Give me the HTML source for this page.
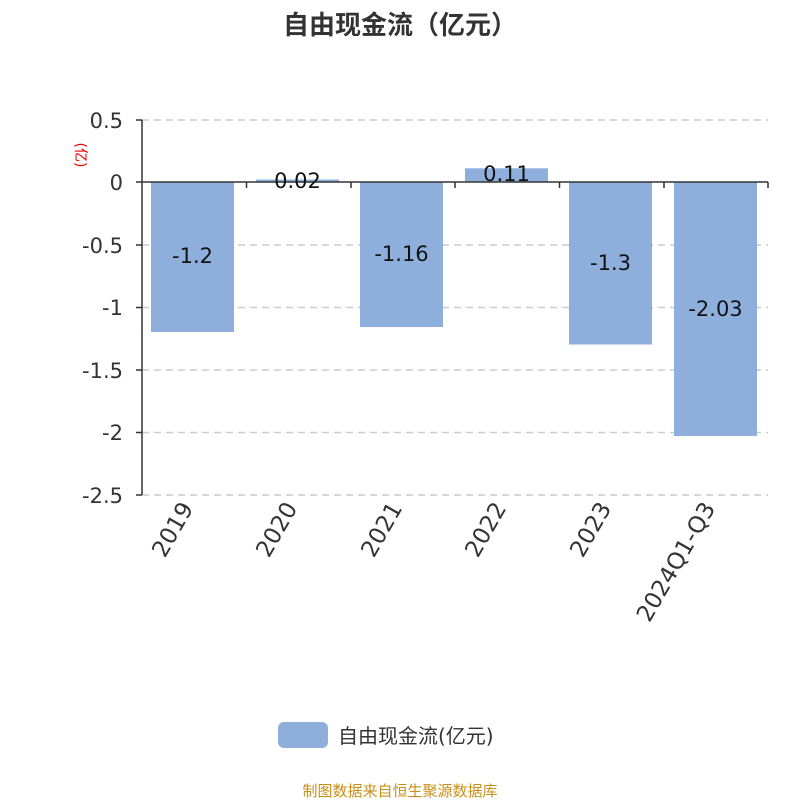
<!DOCTYPE html>
<html><head><meta charset="utf-8"><style>
body{margin:0;background:#fff}
svg{display:block}
text{font-family:"DejaVu Sans","Noto Sans CJK SC",sans-serif}
</style></head><body>
<svg width="800" height="800" viewBox="0 0 800 800">
<text x="400" y="34" text-anchor="middle" font-size="26" font-weight="bold" fill="#333">自由现金流（亿元）</text>
<g stroke="#ccc" stroke-width="1.5" stroke-dasharray="7,5">
<line x1="142" y1="120" x2="768" y2="120"/>
<line x1="142" y1="245" x2="768" y2="245"/>
<line x1="142" y1="307.5" x2="768" y2="307.5"/>
<line x1="142" y1="370" x2="768" y2="370"/>
<line x1="142" y1="432.5" x2="768" y2="432.5"/>
<line x1="142" y1="495" x2="768" y2="495"/>
</g>
<g fill="#8eafdb">
<rect x="151" y="182" width="83" height="150"/>
<rect x="256" y="179.5" width="83" height="2.5"/>
<rect x="360" y="182" width="83" height="145"/>
<rect x="465" y="168.3" width="83" height="13.7"/>
<rect x="569" y="182" width="83" height="162.5"/>
<rect x="674" y="182" width="83" height="254"/>
</g>
<g stroke="#333" stroke-width="1.5">
<line x1="142" y1="120" x2="142" y2="495"/>
<line x1="142" y1="182" x2="768" y2="182"/>
<line x1="136" y1="120" x2="142" y2="120"/>
<line x1="136" y1="182" x2="142" y2="182"/>
<line x1="136" y1="245" x2="142" y2="245"/>
<line x1="136" y1="307.5" x2="142" y2="307.5"/>
<line x1="136" y1="370" x2="142" y2="370"/>
<line x1="136" y1="432.5" x2="142" y2="432.5"/>
<line x1="136" y1="495" x2="142" y2="495"/>
<line x1="246.5" y1="182" x2="246.5" y2="188"/>
<line x1="351" y1="182" x2="351" y2="188"/>
<line x1="455" y1="182" x2="455" y2="188"/>
<line x1="559.5" y1="182" x2="559.5" y2="188"/>
<line x1="664" y1="182" x2="664" y2="188"/>
<line x1="768" y1="182" x2="768" y2="188"/>
</g>
<g font-size="21" fill="#333" text-anchor="end">
<text x="123" y="128">0.5</text>
<text x="123" y="190">0</text>
<text x="123" y="253">-0.5</text>
<text x="123" y="315">-1</text>
<text x="123" y="378">-1.5</text>
<text x="123" y="440">-2</text>
<text x="123" y="503">-2.5</text>
</g>
<text transform="translate(76,155) rotate(90)" text-anchor="middle" font-size="14" fill="#e00">(亿)</text>
<g font-size="21" fill="#111" text-anchor="middle">
<text x="192.5" y="263">-1.2</text>
<text x="297.5" y="188">0.02</text>
<text x="401.5" y="261">-1.16</text>
<text x="506.5" y="181">0.11</text>
<text x="610.5" y="270">-1.3</text>
<text x="715.5" y="316">-2.03</text>
</g>
<g font-size="23" fill="#333" text-anchor="end">
<text transform="translate(194,508) rotate(-60)">2019</text>
<text transform="translate(298,508) rotate(-60)">2020</text>
<text transform="translate(403,508) rotate(-60)">2021</text>
<text transform="translate(507,508) rotate(-60)">2022</text>
<text transform="translate(612,508) rotate(-60)">2023</text>
<text transform="translate(716,508) rotate(-60)">2024Q1-Q3</text>
</g>
<rect x="278" y="722" width="50" height="26" rx="6" fill="#8eafdb"/>
<text x="338" y="743" font-size="20" fill="#333">自由现金流(亿元)</text>
<text x="400" y="796" text-anchor="middle" font-size="15" fill="#c8901a">制图数据来自恒生聚源数据库</text>
</svg>
</body></html>
